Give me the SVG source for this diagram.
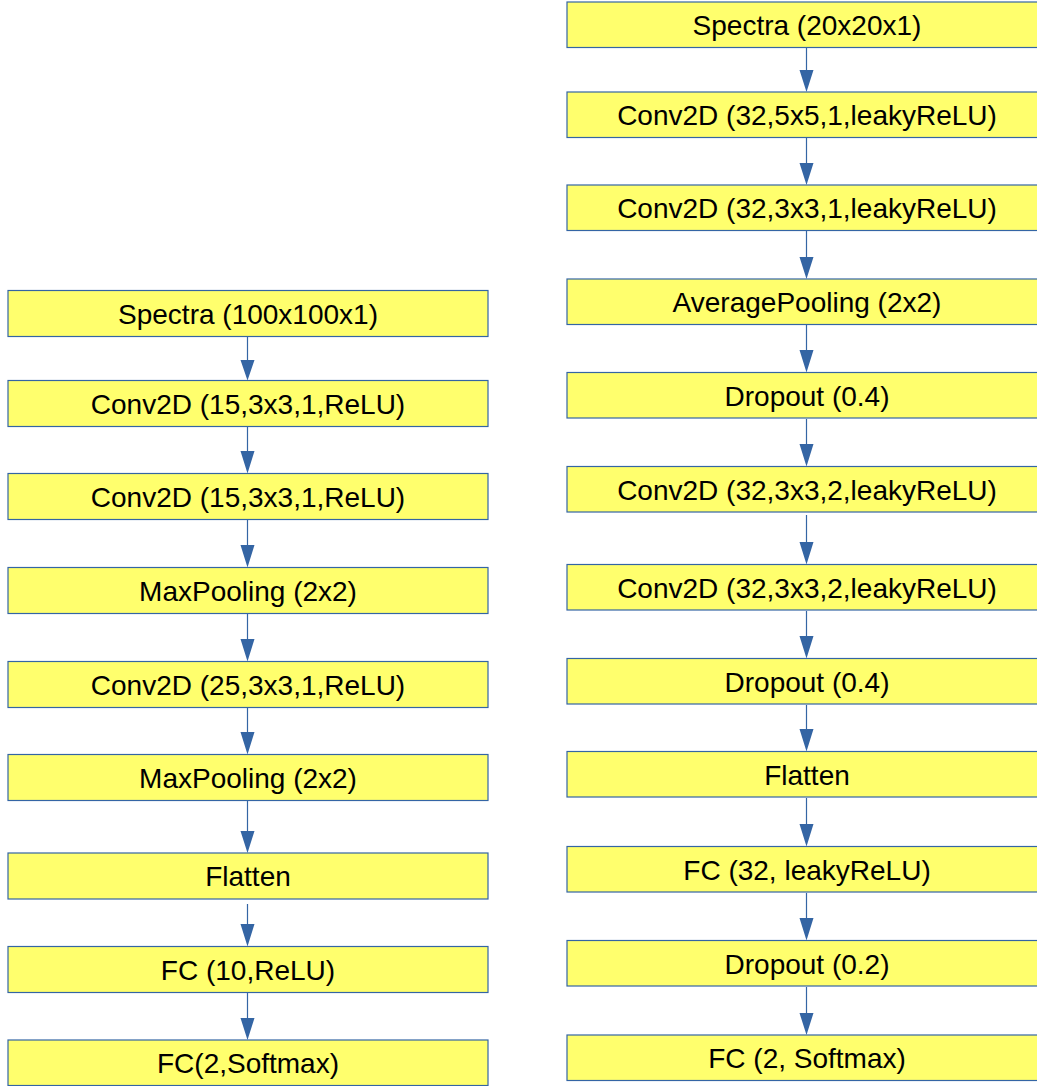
<svg xmlns="http://www.w3.org/2000/svg" width="1037" height="1086" viewBox="0 0 1037 1086">
<defs>
<style>
.box{fill:#ffff6d;stroke:#3465a4;stroke-width:1.2}
.lbl{font-family:"Liberation Sans",Arial,sans-serif;font-size:28px;fill:#000;text-anchor:middle}
.ln{stroke:#3465a4;stroke-width:1.2;fill:none}
.hd{fill:#3465a4}
</style>
</defs>
<rect width="1037" height="1086" fill="#ffffff"/>
<g id="left">
<g id="L1"><rect class="box" x="8" y="290.5" width="480" height="46"/><text class="lbl" x="248" y="323.5">Spectra (100x100x1)</text></g>
<g id="L2"><rect class="box" x="8" y="380.5" width="480" height="46"/><text class="lbl" x="248" y="413.5">Conv2D (15,3x3,1,ReLU)</text></g>
<g id="L3"><rect class="box" x="8" y="473.5" width="480" height="46"/><text class="lbl" x="248" y="506.5">Conv2D (15,3x3,1,ReLU)</text></g>
<g id="L4"><rect class="box" x="8" y="567.5" width="480" height="46"/><text class="lbl" x="248" y="600.5">MaxPooling (2x2)</text></g>
<g id="L5"><rect class="box" x="8" y="661.5" width="480" height="46"/><text class="lbl" x="248" y="694.5">Conv2D (25,3x3,1,ReLU)</text></g>
<g id="L6"><rect class="box" x="8" y="754.5" width="480" height="46"/><text class="lbl" x="248" y="787.5">MaxPooling (2x2)</text></g>
<g id="L7"><rect class="box" x="8" y="853" width="480" height="46"/><text class="lbl" x="248" y="886">Flatten</text></g>
<g id="L8"><rect class="box" x="8" y="946.5" width="480" height="46"/><text class="lbl" x="248" y="979.5">FC (10,ReLU)</text></g>
<g id="L9"><rect class="box" x="8" y="1040" width="480" height="45.5"/><text class="lbl" x="248" y="1073">FC(2,Softmax)</text></g>
</g>
<g id="right">
<g id="R1"><rect class="box" x="567" y="2" width="480" height="45.5"/><text class="lbl" x="807" y="35">Spectra (20x20x1)</text></g>
<g id="R2"><rect class="box" x="567" y="92" width="480" height="45.5"/><text class="lbl" x="807" y="125">Conv2D (32,5x5,1,leakyReLU)</text></g>
<g id="R3"><rect class="box" x="567" y="185" width="480" height="45.5"/><text class="lbl" x="807" y="218">Conv2D (32,3x3,1,leakyReLU)</text></g>
<g id="R4"><rect class="box" x="567" y="279" width="480" height="45.5"/><text class="lbl" x="807" y="312">AveragePooling (2x2)</text></g>
<g id="R5"><rect class="box" x="567" y="372.5" width="480" height="45.5"/><text class="lbl" x="807" y="405.5">Dropout (0.4)</text></g>
<g id="R6"><rect class="box" x="567" y="466.5" width="480" height="45.5"/><text class="lbl" x="807" y="499.5">Conv2D (32,3x3,2,leakyReLU)</text></g>
<g id="R7"><rect class="box" x="567" y="564.5" width="480" height="45.5"/><text class="lbl" x="807" y="597.5">Conv2D (32,3x3,2,leakyReLU)</text></g>
<g id="R8"><rect class="box" x="567" y="658.5" width="480" height="45.5"/><text class="lbl" x="807" y="691.5">Dropout (0.4)</text></g>
<g id="R9"><rect class="box" x="567" y="751.5" width="480" height="45.5"/><text class="lbl" x="807" y="784.5">Flatten</text></g>
<g id="R10"><rect class="box" x="567" y="846.5" width="480" height="45.5"/><text class="lbl" x="807" y="879.5">FC (32, leakyReLU)</text></g>
<g id="R11"><rect class="box" x="567" y="940.5" width="480" height="45.5"/><text class="lbl" x="807" y="973.5">Dropout (0.2)</text></g>
<g id="R12"><rect class="box" x="567" y="1035" width="480" height="45.5"/><text class="lbl" x="807" y="1068">FC (2, Softmax)</text></g>
</g>
<g id="connectors">
<path class="ln" d="M247.5 337V362 M247.5 427V453 M247.5 520V547 M247.5 614V641 M247.5 708V734 M247.5 801V833 M247.5 904V926 M247.5 993V1020"/>
<path class="hd" d="M240.5 360H254.5L247.5 380.5Z M240.5 451H254.5L247.5 473.5Z M240.5 545H254.5L247.5 567.5Z M240.5 639H254.5L247.5 661.5Z M240.5 732H254.5L247.5 754.5Z M240.5 831H254.5L247.5 853Z M240.5 924H254.5L247.5 946.5Z M240.5 1018H254.5L247.5 1040Z"/>
<path class="ln" d="M806.5 48V72 M806.5 138V165 M806.5 231V259 M806.5 325V352 M806.5 419V446 M806.5 515V544 M806.5 611V638 M806.5 705V731 M806.5 798V826 M806.5 893V920 M806.5 987V1015"/>
<path class="hd" d="M799.5 70H813.5L806.5 92Z M799.5 163H813.5L806.5 185Z M799.5 257H813.5L806.5 279Z M799.5 350H813.5L806.5 372.5Z M799.5 444H813.5L806.5 466.5Z M799.5 542H813.5L806.5 564.5Z M799.5 636H813.5L806.5 658.5Z M799.5 729H813.5L806.5 751.5Z M799.5 824H813.5L806.5 846.5Z M799.5 918H813.5L806.5 940.5Z M799.5 1013H813.5L806.5 1035Z"/>
</g>
</svg>
